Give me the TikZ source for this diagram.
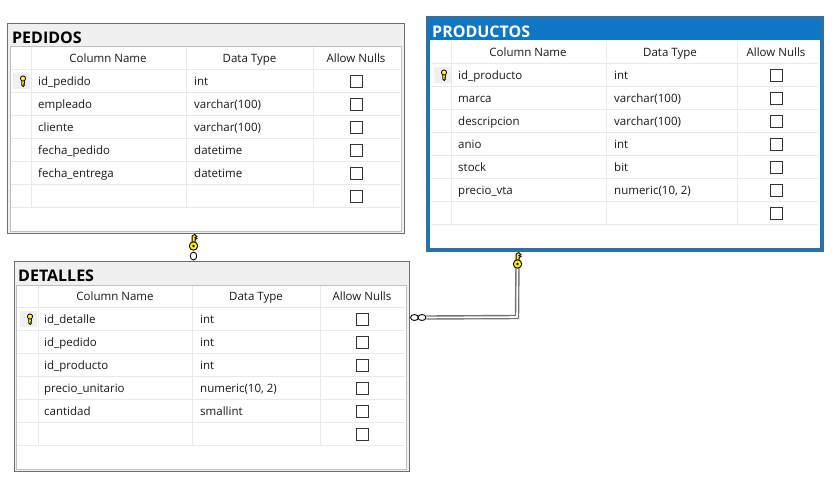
\documentclass[tikz,border=0pt]{standalone}
\usepackage{fontspec}
\setmainfont{Open Sans}
\usepackage{tikz,pgffor}
\usetikzlibrary{shapes.geometric}

\definecolor{marco}{HTML}{6E6E6E}
\definecolor{barra}{HTML}{F0F0F0}
\definecolor{rejilla}{HTML}{E9E9E9}
\definecolor{azul}{HTML}{0F75C5}
\definecolor{azulmarco}{HTML}{32709F}
\definecolor{llave}{HTML}{FFF200}

\tikzset{
  celda/.style={font=\fontsize{11.5}{13}\selectfont, text=black!90, inner sep=0pt, anchor=west, text height=9.5pt, text depth=1.5pt},
  cabecera/.style={font=\fontsize{11.5}{13}\selectfont, text=black!90, inner sep=0pt, text height=9.5pt, text depth=1.5pt},
  titulo/.style={font=\fontsize{16}{18}\selectfont\bfseries, inner sep=0pt, anchor=west, text height=13.5pt, text depth=0pt},
  casilla/.style={draw=black!80, fill=white, line width=1pt, minimum size=12pt, inner sep=0pt},
  fondoclave/.style={fill=barra, minimum width=17pt, minimum height=16pt, inner sep=0pt},
  relacion/.style={draw=black!55, line width=1.4pt, double=white, double distance=1.6pt, line join=miter},
  anillo/.style={draw=black, fill=white, line width=0.9pt, ellipse, inner sep=0pt},
}

% llave de relacion: #1 = centro del ojo
\newcommand{\llave}[1]{
\begin{scope}[shift={(#1)}, line width=0.9pt]
\draw[fill=llave] (-1.4,-3) -- (-1.4,-10) -- (1.2,-11.5) -- (3.4,-9.5) -- (1.6,-8.5) -- (3.4,-7.5) -- (1.6,-6.5) -- (1.6,-3) -- cycle;
\draw[fill=llave] (0,0) circle (4.2);
\fill (0,0) circle (1.3);
\end{scope}
}

% llave de fila: #1 = centro del ojo
\newcommand{\llavefila}[1]{
\begin{scope}[shift={(#1)}, line width=0.8pt]
\draw[fill=llave] (-1.2,2) -- (-1.2,6.5) -- (0.2,8) -- (1.6,6.5) -- (0.7,5.5) -- (1.6,4.5) -- (1.2,2) -- cycle;
\draw[fill=llave] (0,0) circle (2.6);
\fill[white] (0,-0.6) circle (0.8);
\end{scope}
}

\begin{document}
\begin{tikzpicture}[x=1pt,y=-1pt]
\useasboundingbox (0,0) rectangle (834,477);

%%%%%%%%%%%%%%%%%%%%%%%%%%%%%%% PEDIDOS
\node (pedidos) [draw=marco, fill=barra, line width=1pt, minimum width=397pt, minimum height=210pt, inner sep=0pt, anchor=north west] at (6.5,22.5) {};
\draw[black!25, fill=white] (10,46) rectangle (401,231);
\foreach \y in {69,92,115,138,161,184,207}
  \draw[rejilla] (11,\y) -- (400,\y);
\foreach \x in {31,186,313}
  \draw[rejilla] (\x,47) -- (\x,207);
\node (pedidostit) [titulo] at (12,37) {PEDIDOS};
\node (pedidoscol) [cabecera] at (108,58) {Column Name};
\node (pedidostip) [cabecera] at (249.5,58) {Data Type};
\node (pedidosnul) [cabecera] at (356,58) {Allow Nulls};
\node (pedidosfondo) [fondoclave] at (21.5,81) {};
\llavefila{23,78.5}
\foreach \t/\d/\y in {id_pedido/int/81, empleado/varchar(100)/104, cliente/varchar(100)/127,
  fecha_pedido/datetime/150, fecha_entrega/datetime/173}{
  \node [celda] at (38,\y) {\detokenize\expandafter{\t}};
  \node [celda] at (194,\y) {\d};
}
\foreach \y in {81,104,127,150,173,196}
  \node [casilla] at (356,\y) {};

%%%%%%%%%%%%%%%%%%%%%%%%%%%%%%% DETALLES
\node (detalles) [draw=marco, fill=barra, line width=1pt, minimum width=395pt, minimum height=210pt, inner sep=0pt, anchor=north west] at (13.5,260.5) {};
\draw[black!25, fill=white] (16,285) rectangle (406,469);
\foreach \y in {307,330,353,376,399,422,445}
  \draw[rejilla] (17,\y) -- (405,\y);
\foreach \x in {38,192,320}
  \draw[rejilla] (\x,286) -- (\x,445);
\node (detallestit) [titulo] at (18,275) {DETALLES};
\node (detallescol) [cabecera] at (115,296) {Column Name};
\node (detallestip) [cabecera] at (256,296) {Data Type};
\node (detallesnul) [cabecera] at (362,296) {Allow Nulls};
\node (detallesfondo) [fondoclave] at (28.5,319) {};
\llavefila{30,316.5}
\foreach \t/\d/\y in {id_detalle/int/319, id_pedido/int/342, id_producto/int/365,
  precio_unitario/{numeric(10, 2)}/388, cantidad/smallint/411}{
  \node [celda] at (44,\y) {\detokenize\expandafter{\t}};
  \node [celda] at (200,\y) {\d};
}
\foreach \y in {319,342,365,388,411,434}
  \node [casilla] at (362,\y) {};

%%%%%%%%%%%%%%%%%%%%%%%%%%%%%%% PRODUCTOS
\node (productos) [draw=azulmarco, fill=azul, line width=3.4pt, minimum width=394.6pt, minimum height=232.6pt, inner sep=0pt, anchor=north west] at (426,16) {};
\fill[white] (430,40) rectangle (820,248);
\foreach \y in {63,86,109,132,155,178,201,224}
  \draw[rejilla] (431,\y) -- (818,\y);
\foreach \x in {451,606,737}
  \draw[rejilla] (\x,41) -- (\x,224);
\node (productostit) [titulo, text=white] at (432,31) {PRODUCTOS};
\node (productoscol) [cabecera] at (528,52) {Column Name};
\node (productostip) [cabecera] at (670,52) {Data Type};
\node (productosnul) [cabecera] at (776,52) {Allow Nulls};
\node (productosfondo) [fondoclave] at (442.5,75) {};
\llavefila{444,72.5}
\foreach \t/\d/\y in {id_producto/int/75, marca/varchar(100)/98, descripcion/varchar(100)/121,
  anio/int/144, stock/bit/167, precio_vta/{numeric(10, 2)}/190}{
  \node [celda] at (458,\y) {\detokenize\expandafter{\t}};
  \node [celda] at (614,\y) {\d};
}
\foreach \y in {75,98,121,144,167,190,213}
  \node [casilla] at (776,\y) {};

%%%%%%%%%%%%%%%%%%%%%%%%%%%%%%% relaciones
\coordinate (ojouno) at (193.5,246);
\coordinate (ojodos) at (517.5,264);
\coordinate (codo) at (517,317);
\node (anillouno) [anillo, minimum width=6.5pt, minimum height=8pt] at (193.5,256) {};
\node (anillodos) [anillo, minimum width=8pt, minimum height=6pt] at (414.5,317.5) {};
\node (anillotres) [anillo, minimum width=8pt, minimum height=6pt] at (422,317.5) {};
\draw[relacion] (anillotres.east) -- (codo) -- (ojodos);
\llave{ojouno}
\llave{ojodos}
\end{tikzpicture}
\end{document}
